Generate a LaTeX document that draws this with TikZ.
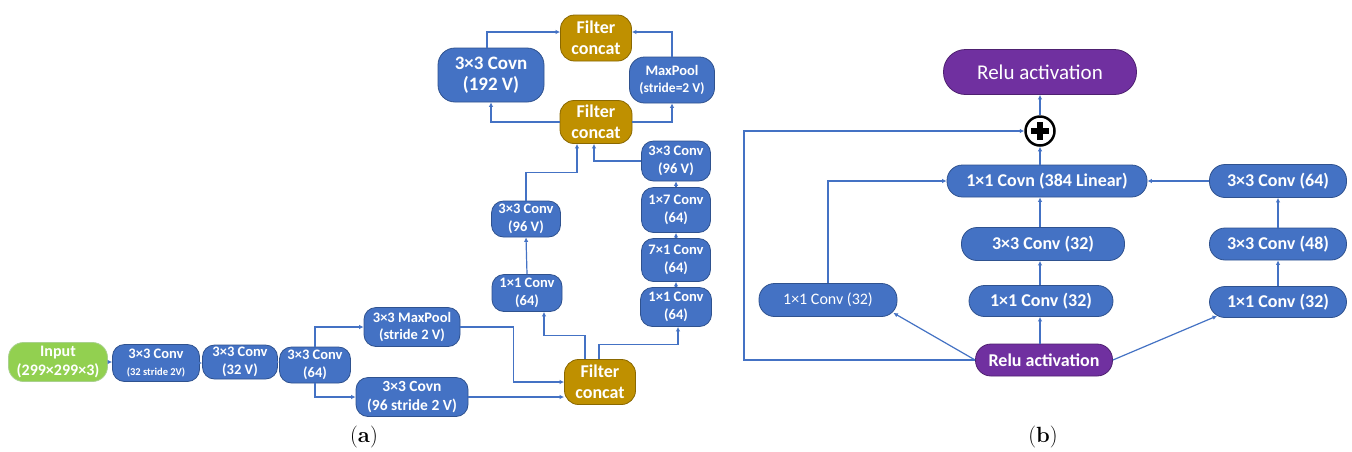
\documentclass[tikz,border=0pt]{standalone}
\usepackage{fontspec}
\newfontfamily\cali{Carlito}
\usepackage{tikz}
\usetikzlibrary{arrows.meta,
                calc,
                positioning}

\definecolor{boxblue}{HTML}{4472C4}
\definecolor{edgeblue}{HTML}{2F528F}
\definecolor{catgold}{HTML}{BF9000}
\definecolor{catedge}{HTML}{8A6800}
\definecolor{ingreen}{HTML}{92D050}
\definecolor{inedge}{HTML}{A9D18E}
\definecolor{relupurple}{HTML}{7030A0}
\definecolor{reluedge}{HTML}{4E2070}

\tikzset{
  blk/.style={draw=edgeblue, fill=boxblue, text=white, line width=0.8pt,
              inner sep=0pt, align=center},
  cvA/.style={blk, rounded corners=12pt,
              font=\cali\bfseries\fontsize{14.5}{17.5}\selectfont},
  cat/.style={blk, fill=catgold, draw=catedge, rounded corners=14pt,
              minimum width=71pt, minimum height=45pt,
              font=\cali\bfseries\fontsize{18}{21}\selectfont},
  cvB/.style={blk, rounded corners=15.5pt, minimum width=137pt, minimum height=32pt,
              font=\cali\bfseries\fontsize{18}{20}\selectfont},
  relu/.style={cvB, fill=relupurple, draw=reluedge},
  arr/.style={draw=boxblue, line width=1.2pt, -{Latex[length=4.5pt,width=4.5pt]}},
  tag/.style={font=\fontsize{22}{26}\selectfont, inner sep=0pt},
}

\begin{document}
\begin{tikzpicture}[x=1pt, y=-1pt]
\useasboundingbox[fill=white] (0,0) rectangle (1352,451);

% (a) stem
\node[cvA, fill=ingreen, draw=inedge, minimum width=99pt, minimum height=39pt,
      rounded corners=15pt, font=\cali\bfseries\fontsize{16}{19}\selectfont]
      (inp) at (58,362) {Input\\(299×299×3)};
\node[cvA, minimum width=87pt, minimum height=37pt] (c1) at (156,363)
      {3×3 Conv\\\fontsize{10.5}{12}\selectfont(32 stride 2V)};
\node[cvA, minimum width=75pt, minimum height=34pt] (c2) at (240,362) {3×3 Conv\\(32 V)};
\node[cvA, minimum width=71pt, minimum height=36pt] (c3) at (315,365) {3×3 Conv\\(64)};
\node[cvA, minimum width=96pt, minimum height=39pt] (mp) at (412,327) {3×3 MaxPool\\(stride 2 V)};
\node[cvA, minimum width=112pt, minimum height=39pt,
      font=\cali\bfseries\fontsize{15.5}{18.5}\selectfont] (cv96) at (412,397) {3×3 Covn\\(96 stride 2 V)};
\node[cat] (fcA) at (600,382) {Filter\\concat};

% (a) two towers
\node[cvA, minimum width=70pt, minimum height=37pt] (l1) at (527,293) {1×1 Conv\\(64)};
\node[cvA, minimum width=69pt, minimum height=36pt] (l2) at (526,219) {3×3 Conv\\(96 V)};
\node[cvA, minimum width=71pt, minimum height=39pt] (r1) at (676,307) {1×1 Conv\\(64)};
\node[cvA, minimum width=69pt, minimum height=43pt] (r2) at (676,260) {7×1 Conv\\(64)};
\node[cvA, minimum width=69pt, minimum height=45pt] (r3) at (676,210) {1×7 Conv\\(64)};
\node[cvA, minimum width=69pt, minimum height=40pt] (r4) at (676,161) {3×3 Conv\\(96 V)};
\node[cat, minimum width=72pt, minimum height=43pt] (fcB) at (596,122) {Filter\\concat};

% (a) top block
\node[cvA, minimum width=106pt, minimum height=54pt, rounded corners=17pt,
      font=\cali\bfseries\fontsize{19}{21}\selectfont] (cv192) at (491,75) {3×3 Covn\\(192 V)};
\node[cvA, minimum width=85pt, minimum height=46pt, rounded corners=15pt] (mp2) at (672,80)
      {MaxPool\\\fontsize{13.5}{17}\selectfont(stride=2 V)};
\node[cat, minimum height=46pt] (fcC) at (596,38) {Filter\\concat};

\draw[arr] (inp.east) -- (inp.east -| c1.west);
\draw[arr] (c1.east) -- (c1.east -| c2.west);
\draw[arr] (c2.east) -- (c2.east -| c3.west);
\draw[arr] (c3.north) |- (mp.west);
\draw[arr] (c3.south) |- (cv96.west);
\draw[arr] (mp.east) -- ++(53,0) |- (fcA.west);
\draw[arr] (cv96.east) -- (cv96.east -| fcA.west);
\draw[arr] ([xshift=-15pt]fcA.north) -- ++(0,-24) -| ([xshift=17pt]l1.south);
\draw[arr] ([xshift=-1pt]fcA.north) -- ++(0,-15) -| ([xshift=2pt]r1.south);
\draw[arr] (l1.north) -- (l2.south);
\foreach \a/\b in {r1/r2, r2/r3, r3/r4}
  \draw[arr] (\a.north) -- (\b.south);
\draw[arr] (l2.north) -- ++(0,-28) -| ([xshift=-19pt]fcB.south);
\draw[arr] (r4.west) -| ([xshift=-2pt]fcB.south);
\draw[arr] (fcB.west) -| (cv192.south);
\draw[arr] (fcB.east) -| (mp2.south);
\draw[arr] ([xshift=-4pt]cv192.north) |- ([yshift=6pt]fcC.west);
\draw[arr] (mp2.north) |- ([yshift=6pt]fcC.east);

% (b) residual block
\node[relu, minimum width=193pt, minimum height=45pt, rounded corners=22pt,
      font=\cali\fontsize{21}{24}\selectfont] (reluT) at (1040,72) {Relu activation};
\node[circle, draw=black, fill=white, line width=2.5pt, minimum size=29pt,
      inner sep=0pt] (plus) at (1040,131) {};
\draw[line width=5.5pt] ([xshift=-9pt]plus.center) -- ([xshift=9pt]plus.center);
\draw[line width=5.5pt] ([yshift=-9pt]plus.center) -- ([yshift=9pt]plus.center);
\node[cvB, minimum width=200pt] (covn) at (1047,181) {1×1 Covn (384 Linear)};
\node[cvB, minimum width=163pt, minimum height=33pt] (b32) at (1043,244) {3×3 Conv (32)};
\node[cvB, minimum width=144pt, minimum height=31pt] (m11) at (1041,301) {1×1 Conv (32)};
\node[relu] (reluB) at (1044,360) {Relu activation};
\node[cvB, minimum width=138pt, minimum height=33pt,
      font=\cali\fontsize{16}{18}\selectfont] (l11) at (828,300) {1×1 Conv (32)};
\node[cvB, minimum height=33pt] (b64) at (1278,181) {3×3 Conv (64)};
\node[cvB] (b48) at (1278,244) {3×3 Conv (48)};
\node[cvB, minimum height=31pt] (r11) at (1278,302) {1×1 Conv (32)};
\coordinate (skip) at (744,360);

\draw[arr] (reluB.north -| plus) -- (m11.south -| plus);
\draw[arr] (m11.north -| plus) -- (b32.south -| plus);
\draw[arr] (b32.north -| plus) -- (covn.south -| plus);
\draw[arr] (covn.north -| plus) -- (plus.south);
\draw[arr] (plus.north) -- (reluT.south);
\draw[arr] (reluB.west) -- (skip) |- (plus.west);
\draw[arr] (l11.north) |- (covn.west);
\draw[arr] (reluB.west) -- ([xshift=-4pt,yshift=4pt]l11.south east);
\draw[arr] (reluB.east) -- ([xshift=8pt,yshift=2pt]r11.south west);
\draw[arr] (r11.north) -- (b48.south);
\draw[arr] (b48.north) -- (b64.south);
\draw[arr] (b64.west) -- (covn.east);

\node[tag] (tagA) at (364,437) {(\textbf{a})};
\node[tag] (tagB) at (1043,437) {(\textbf{b})};
\end{tikzpicture}
\end{document}
